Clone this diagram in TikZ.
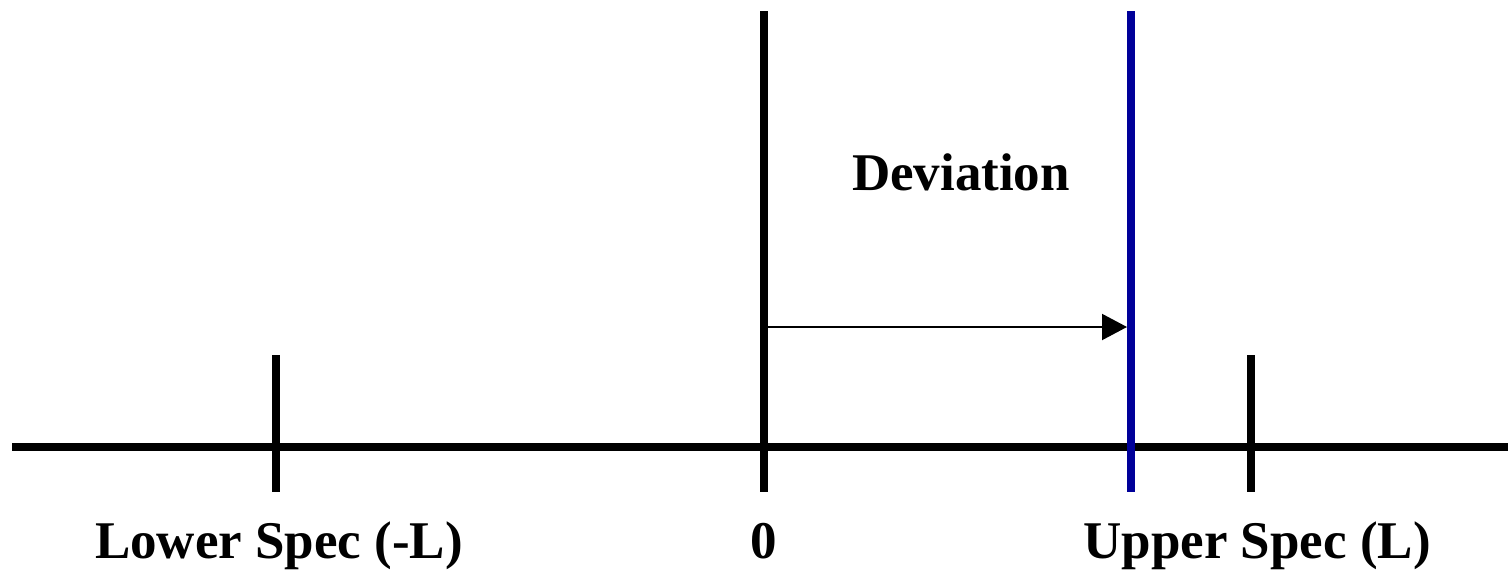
\documentclass[tikz,border=0pt]{standalone}
\usepackage{fontspec}
\setmainfont{Liberation Serif}
\usetikzlibrary{arrows.meta}
\definecolor{specblue}{RGB}{0,0,153}
\begin{document}
\begin{tikzpicture}[x=1pt,y=-1pt,
  thick line/.style={line width=8pt},
  lbl/.style={anchor=base,inner sep=0pt,font=\fontsize{53}{60}\selectfont\bfseries}]
\useasboundingbox (0,0) rectangle (1508,573);
% coordinates
\coordinate (axL) at (12,447);
\coordinate (axR) at (1508,447);
\coordinate (lt) at (276,355);
\coordinate (lb) at (276,492);
\coordinate (ct) at (764,11);
\coordinate (cb) at (764,492);
\coordinate (bt) at (1131,11);
\coordinate (bb) at (1131,492);
\coordinate (rt) at (1251,355);
\coordinate (rb) at (1251,492);
\coordinate (as) at (768,327);
\coordinate (ae) at (1127,327);
% lines
\draw[thick line] (axL) -- (axR);
\draw[thick line] (lt) -- (lb);
\draw[thick line] (ct) -- (cb);
\draw[thick line] (rt) -- (rb);
\draw[thick line,specblue] (bt) -- (bb);
\draw[line width=2pt,-{Triangle[length=25pt,width=26pt]}] (as) -- (ae);
% labels
\node[lbl] (dev) at (961,190) {Deviation};
\node[lbl] (lower) at (279,558) {Lower Spec (-L)};
\node[lbl] (zero) at (764,558) {0};
\node[lbl] (upper) at (1257,558) {Upper Spec (L)};
\end{tikzpicture}
\end{document}
